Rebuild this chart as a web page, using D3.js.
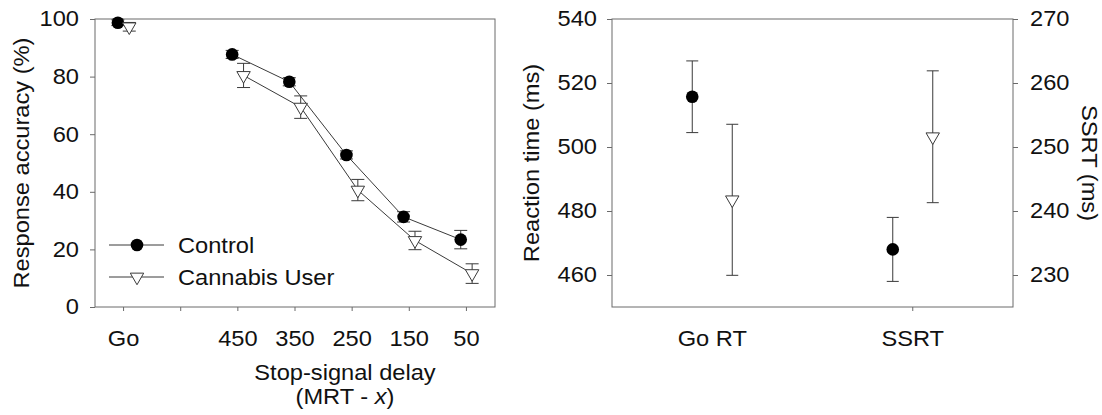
<!DOCTYPE html>
<html>
<head>
<meta charset="utf-8">
<script src="https://cdn.jsdelivr.net/npm/d3@7"></script>
<style>
  body { margin: 0; background: #fff; }
  svg { display: block; }
  text { font-family: "Liberation Sans", Arial, sans-serif; fill: #111; }
</style>
</head>
<body>
<svg id="chart" width="1102" height="415"></svg>
<script>
// ---- data: left panel (response accuracy by stop-signal delay) ----
var delayLabels = ["Go", "", "450", "350", "250", "150", "50"];
var controlAcc = [98.7, null, 87.7, 78.2, 52.8, 31.3, 23.4];
var controlErr = [1.0, null, 1.4, 1.4, 1.4, 1.8, 3.2];
var cannabisAcc = [97.3, null, 80.4, 69.4, 40.6, 23.1, 11.6];
var cannabisErr = [1.5, null, 4.2, 3.9, 3.7, 3.2, 3.4];
var accTicks = [0, 20, 40, 60, 80, 100];

// ---- data: right panel (Go RT on left axis, SSRT on right axis) ----
var rtMeasures = ["Go RT", "SSRT"];
var groups = ["Control", "Cannabis User"];
var goRT = [515.7, 483.5];
var goRTErr = [11.2, 23.6];
var ssrt = [234.0, 251.6];
var ssrtErr = [5.0, 10.3];
var rtTicks = [460, 480, 500, 520, 540];
var ssrtTicks = [230, 240, 250, 260, 270];

var svg = d3.select("#chart");
var FONT = 21.5, SX = 1.1;
var frameColor = "#6a6a6a", lineColor = "#3a3a3a";

// text in the reference is a little wide: stretch it along its baseline
function stretch(sel) {
  sel.each(function() {
    var t = d3.select(this);
    var x = +t.attr("x") || 0, y = +t.attr("y") || 0;
    t.attr("transform", "translate(" + x + "," + y + ") scale(" + SX + ",1) translate(" + (-x) + "," + (-y) + ")");
  });
}

function styleAxis(g) {
  g.select(".domain").remove();
  g.selectAll(".tick line").attr("stroke", frameColor);
  g.selectAll(".tick text").attr("font-size", FONT).attr("fill", "#111").call(stretch);
  g.attr("font-family", null);
}

function triangle() {
  return d3.symbol().type(d3.symbolTriangle).size(78)();
}

// =============== left panel ===============
var L = {left: 95, right: 495, top: 19, bottom: 307};
var xL = d3.scaleBand().domain(d3.range(delayLabels.length)).range([L.left, L.right]);
var yL = d3.scaleLinear().domain([0, 100]).range([L.bottom, L.top]);
var off = 5.7;

svg.append("g")
  .attr("transform", "translate(0," + L.bottom + ")")
  .call(d3.axisBottom(xL).tickSize(4).tickPadding(20).tickSizeOuter(0)
    .tickFormat(function(i) { return delayLabels[i]; }))
  .call(styleAxis);

svg.append("g")
  .attr("transform", "translate(" + L.left + ",0)")
  .call(d3.axisLeft(yL).tickValues(accTicks).tickSize(5).tickPadding(11).tickSizeOuter(0))
  .call(styleAxis);

svg.append("rect")
  .attr("x", L.left).attr("y", L.top)
  .attr("width", L.right - L.left).attr("height", L.bottom - L.top)
  .attr("fill", "none").attr("stroke", frameColor).attr("stroke-width", 1);

function cx(i, dx) { return xL(i) + xL.bandwidth() / 2 + dx; }

function drawSeries(vals, errs, dx, kind) {
  var idx = d3.range(vals.length).filter(function(i) { return vals[i] != null; });
  // the Go point is not joined to the delay curve
  var lineIdx = idx.filter(function(i) { return i >= 2; });
  svg.append("path")
    .attr("d", d3.line().x(function(i) { return cx(i, dx); }).y(function(i) { return yL(vals[i]); })(lineIdx))
    .attr("fill", "none").attr("stroke", lineColor).attr("stroke-width", 1);
  var eb = svg.append("g").attr("stroke", lineColor).attr("stroke-width", 1);
  idx.forEach(function(i) {
    var x = cx(i, dx), y0 = yL(vals[i] - errs[i]), y1 = yL(vals[i] + errs[i]);
    eb.append("line").attr("x1", x).attr("x2", x).attr("y1", y0).attr("y2", y1);
    eb.append("line").attr("x1", x - 6.5).attr("x2", x + 6.5).attr("y1", y0).attr("y2", y0);
    eb.append("line").attr("x1", x - 6.5).attr("x2", x + 6.5).attr("y1", y1).attr("y2", y1);
  });
  idx.forEach(function(i) {
    drawMarker(kind, cx(i, dx), yL(vals[i]));
  });
}

function drawMarker(kind, x, y) {
  if (kind == "circle")
    svg.append("circle").attr("cx", x).attr("cy", y).attr("r", 6.3).attr("fill", "#000");
  else
    svg.append("path").attr("d", triangle())
      .attr("transform", "translate(" + x + "," + y + ") rotate(180)")
      .attr("fill", "#fff").attr("stroke", lineColor).attr("stroke-width", 1);
}

drawSeries(controlAcc, controlErr, -off, "circle");
drawSeries(cannabisAcc, cannabisErr, off, "triangle");

// legend
var legY = [245, 277];
var legKinds = ["circle", "triangle"];
groups.forEach(function(name, k) {
  svg.append("line").attr("x1", 109).attr("x2", 164).attr("y1", legY[k]).attr("y2", legY[k])
    .attr("stroke", lineColor).attr("stroke-width", 1);
  drawMarker(legKinds[k], 137, legY[k]);
  svg.append("text").attr("x", 178).attr("y", legY[k]).attr("dy", "0.36em")
    .attr("font-size", FONT).text(name).call(stretch);
});

// axis titles
svg.append("text")
  .attr("transform", "translate(29," + ((L.top + L.bottom) / 2) + ") rotate(-90) scale(" + SX + ",1)")
  .attr("text-anchor", "middle").attr("font-size", FONT).text("Response accuracy (%)");

svg.append("text").attr("x", 345).attr("y", 380).attr("text-anchor", "middle")
  .attr("font-size", FONT).text("Stop-signal delay").call(stretch);
var t2 = svg.append("text").attr("x", 345).attr("y", 404).attr("text-anchor", "middle")
  .attr("font-size", FONT);
t2.append("tspan").text("(MRT - ");
t2.append("tspan").attr("font-style", "italic").text("x");
t2.append("tspan").text(")");
t2.call(stretch);

// =============== right panel ===============
var R = {left: 612, right: 1013, top: 19, bottom: 307};
var xR = d3.scaleBand().domain(rtMeasures).range([R.left, R.right]);
var yRT = d3.scaleLinear().domain([450, 540]).range([R.bottom, R.top]);
var ySS = d3.scaleLinear().domain([225, 270]).range([R.bottom, R.top]);
var offR = 20;

var xAxisR = svg.append("g")
  .attr("transform", "translate(0," + R.bottom + ")")
  .call(d3.axisBottom(xR).tickSize(4).tickPadding(20).tickSizeOuter(0))
  .call(styleAxis);
// the reference shows a tick mark only under SSRT
xAxisR.selectAll(".tick").filter(function(d) { return d == "Go RT"; }).select("line").remove();

svg.append("g")
  .attr("transform", "translate(" + R.left + ",0)")
  .call(d3.axisLeft(yRT).tickValues(rtTicks).tickSize(5).tickPadding(10).tickSizeOuter(0))
  .call(styleAxis);

svg.append("g")
  .attr("transform", "translate(" + R.right + ",0)")
  .call(d3.axisRight(ySS).tickValues(ssrtTicks).tickSize(5).tickPadding(12).tickSizeOuter(0))
  .call(styleAxis);

svg.append("rect")
  .attr("x", R.left).attr("y", R.top)
  .attr("width", R.right - R.left).attr("height", R.bottom - R.top)
  .attr("fill", "none").attr("stroke", frameColor).attr("stroke-width", 1);

function errPoint(x, y, y0, y1, kind) {
  var eb = svg.append("g").attr("stroke", lineColor).attr("stroke-width", 1);
  eb.append("line").attr("x1", x).attr("x2", x).attr("y1", y0).attr("y2", y1);
  eb.append("line").attr("x1", x - 6).attr("x2", x + 6).attr("y1", y0).attr("y2", y0);
  eb.append("line").attr("x1", x - 6).attr("x2", x + 6).attr("y1", y1).attr("y2", y1);
  drawMarker(kind, x, y);
}

groups.forEach(function(g, k) {
  var dx = k == 0 ? -offR : offR;
  var xg = xR("Go RT") + xR.bandwidth() / 2 + dx;
  errPoint(xg, yRT(goRT[k]), yRT(goRT[k] - goRTErr[k]), yRT(goRT[k] + goRTErr[k]), legKinds[k]);
  var xs = xR("SSRT") + xR.bandwidth() / 2 + dx;
  errPoint(xs, ySS(ssrt[k]), ySS(ssrt[k] - ssrtErr[k]), ySS(ssrt[k] + ssrtErr[k]), legKinds[k]);
});

svg.append("text")
  .attr("transform", "translate(539," + ((R.top + R.bottom) / 2) + ") rotate(-90) scale(" + SX + ",1)")
  .attr("text-anchor", "middle").attr("font-size", FONT).text("Reaction time (ms)");

svg.append("text")
  .attr("transform", "translate(1082," + ((R.top + R.bottom) / 2) + ") rotate(90) scale(" + SX + ",1)")
  .attr("text-anchor", "middle").attr("font-size", FONT).text("SSRT (ms)");
</script>
</body>
</html>
